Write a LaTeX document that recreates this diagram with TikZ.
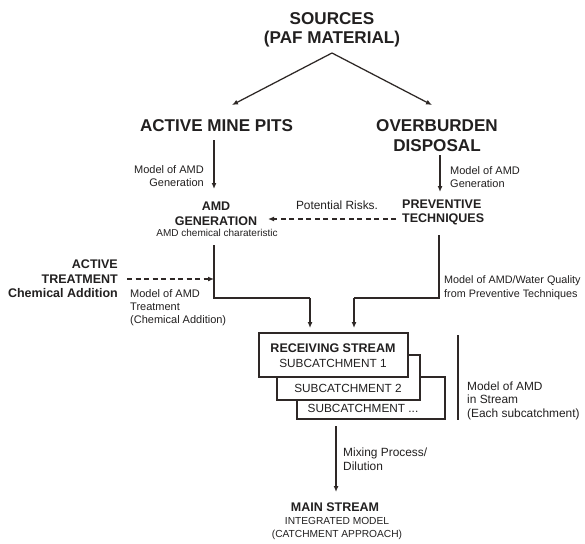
\documentclass[tikz,border=0pt]{standalone}
\usepackage{fontspec}
\setmainfont{Liberation Sans}
\usetikzlibrary{arrows.meta}
\definecolor{ink}{HTML}{222020}
\definecolor{ln}{HTML}{2E2826}
\tikzset{
  txt/.style={inner sep=0pt, text=ink},
  big/.style={txt, font=\fontsize{17.1}{19.5}\selectfont\bfseries, align=center},
  mid/.style={txt, font=\fontsize{12.5}{14.5}\selectfont\bfseries},
  sub/.style={txt, font=\fontsize{11.8}{14}\selectfont},
  lab/.style={txt, font=\fontsize{11}{13}\selectfont},
  labb/.style={txt, font=\fontsize{11.9}{13.5}\selectfont},
  conn/.style={draw=ln, line width=1.25pt},
  arr/.style={conn, -{Latex[length=6pt,width=5pt]}},
  darr/.style={arr, dash pattern=on 5pt off 3.5pt},
  boxs/.style={draw=ln, line width=1.35pt, fill=white},
}
\begin{document}
\begin{tikzpicture}[x=1pt,y=-1pt]
\useasboundingbox[fill=white] (0,0) rectangle (585,543);
\clip (0,0) rectangle (585,543);

% top level
\node[big] (src) at (332,30) {SOURCES\\(PAF MATERIAL)};
\coordinate (apex) at (332,53);
\node[big] (amp) at (216.5,126) {ACTIVE MINE PITS};
\node[big] (obd) at (437,135.5) {OVERBURDEN\\DISPOSAL};
\coordinate (tipL) at (232,105);
\coordinate (tipR) at (432,105);
\draw[arr] (apex) -- (tipL);
\draw[arr] (apex) -- (tipR);

% left branch
\coordinate (l0) at (214,140);
\node[mid, align=center] (amd) at (216,214) {AMD\\GENERATION};
\node[txt, font=\fontsize{10}{12}\selectfont] (amdc) at (217,233) {AMD chemical charateristic};
\draw[arr] (l0) -- (214,189);
\node[lab, align=right, anchor=east] (mg1) at (204,176.5) {Model of AMD\\Generation};

\node[mid, align=right, anchor=east] (act) at (118,279) {ACTIVE\\TREATMENT\\Chemical Addition};
\node[lab, align=left, anchor=west] (mt) at (130,308) {Model of AMD\\Treatment\\(Chemical Addition)};
\coordinate (l1) at (214,245);
\coordinate (l2) at (214,298);
\coordinate (l3) at (310,298);
\draw[darr] (act.east |- 0,279) ++(9,0) -- (214,279);

% right branch
\coordinate (r0) at (440,155);
\draw[arr] (r0) -- (440,192);
\node[lab, align=left, anchor=west] (mg2) at (450,177.5) {Model of AMD\\Generation};
\node[mid, align=left, anchor=west] (prev) at (402,212.5) {PREVENTIVE\\TECHNIQUES};
\node[labb] (risk) at (337,205) {Potential Risks.};
\draw[darr] (396,219) -- (268,219);
\coordinate (r1) at (439,235);
\coordinate (r2) at (439,298);
\coordinate (r3) at (354,298);
\node[txt, font=\fontsize{10.8}{13.5}\selectfont, align=left, anchor=west] (mwq) at (444,287.5) {Model of AMD/Water Quality\\from Preventive Techniques};

% boxes
\draw[boxs] (297,377) rectangle (445,419);
\draw[boxs] (277,355) rectangle (420,400);
\draw[boxs] (259,333) rectangle (408,377);
\node[mid] (rs) at (333,348) {RECEIVING STREAM};
\node[sub] (s1) at (333,363.5) {SUBCATCHMENT 1};
\node[sub] (s2) at (348,388) {SUBCATCHMENT 2};
\node[sub] (s3) at (363,408) {SUBCATCHMENT ...};

\draw[conn] (l1) -- (l2) -- (l3);
\draw[arr] (l3) -- (310,328);
\draw[conn] (r1) -- (r2) -- (r3);
\draw[arr] (r3) -- (354,328);

\coordinate (v0) at (458,335);
\coordinate (v1) at (458,420);
\draw[conn] (v0) -- (v1);
\node[labb, align=left, anchor=west] (mis) at (467,400.5) {Model of AMD\\in Stream\\(Each subcatchment)};

% bottom
\coordinate (b0) at (336,426);
\draw[arr] (b0) -- (336,492);
\node[labb, align=left, anchor=west] (mix) at (343,459) {Mixing Process/\\Dilution};
\node[mid] (ms) at (335,507) {MAIN STREAM};
\node[txt, align=center, font=\fontsize{10.2}{13}\selectfont] (im) at (337,528.5) {INTEGRATED MODEL\\(CATCHMENT APPROACH)};
\end{tikzpicture}
\end{document}
